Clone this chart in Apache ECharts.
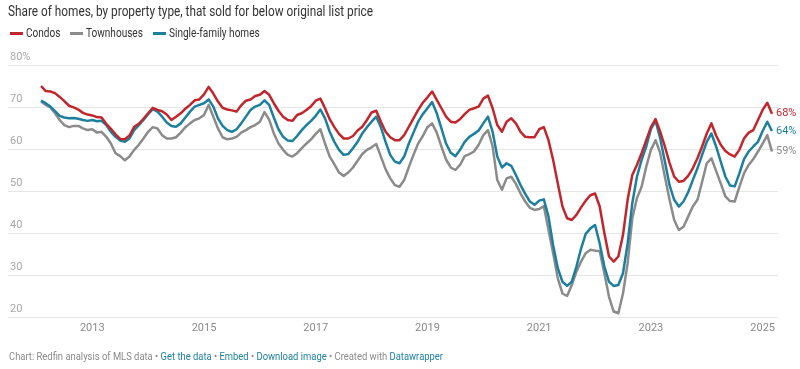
<!DOCTYPE html>
<html><head><meta charset="utf-8">
<script src="https://cdn.jsdelivr.net/npm/echarts@6/dist/echarts.min.js"></script>
<style>html,body{margin:0;padding:0;background:#fff}#c{width:800px;height:369px}</style>
</head><body><div id="c"></div>
<script>
// Monthly data, Feb 2012 .. Mar 2025 (share of homes sold below original list price, %)
const firstMonth = { year: 2012, month: 2 };
const condos = [
75.0,73.8,73.7,73.3,72.4,71.4,70.3,69.9,69.4,68.6,68.2,68.0,67.6,67.5,66.0,64.8,63.5,62.4,62.3,63.2,
65.3,66.0,67.2,68.5,69.8,69.3,69.0,68.2,66.9,67.7,68.5,69.6,70.5,71.6,71.8,73.0,74.8,73.2,71.3,69.8,
69.4,69.2,68.9,70.4,71.5,71.8,72.6,72.9,73.8,72.9,70.9,69.1,67.7,66.9,66.7,68.1,68.5,69.3,70.2,71.5,
72.0,69.7,67.1,65.2,63.6,62.5,62.5,63.1,64.4,65.3,66.9,68.7,69.1,66.5,64.1,62.8,62.1,62.1,63.3,65.3,
67.3,69.3,71.0,72.3,73.7,71.7,69.7,67.7,66.5,66.3,67.1,68.3,69.3,69.7,70.1,72.0,72.7,69.7,65.7,64.1,
66.5,67.3,66.1,64.1,62.9,62.8,62.8,64.7,65.2,62.1,57.4,51.8,46.3,43.5,43.1,44.3,46.1,47.7,49.0,49.4,
46.3,40.0,34.4,33.2,34.4,39.5,47.9,53.8,56.2,59.0,62.1,65.2,67.1,64.1,60.6,56.7,53.4,52.2,52.4,53.6,
55.4,57.8,60.6,63.7,66.1,63.2,61.0,59.5,58.7,58.2,59.8,62.5,63.9,64.5,66.9,69.3,71.0,68.4];
const townhouses = [
71.3,70.5,69.9,68.5,66.9,65.7,65.2,65.5,65.5,64.9,64.5,64.7,63.9,64.1,62.9,61.3,59.0,58.3,57.3,58.2,
59.8,61.0,62.5,64.1,65.2,64.9,63.3,62.5,62.5,62.8,63.9,65.2,66.1,66.9,67.3,68.1,70.5,67.7,64.9,62.8,
62.3,62.5,62.9,63.9,64.5,65.2,65.7,66.5,68.8,67.0,63.7,61.3,59.8,58.6,58.2,59.0,60.2,61.3,62.3,63.6,
64.7,61.3,58.2,56.4,54.4,53.6,54.4,55.6,57.2,58.8,59.8,60.4,61.2,58.2,55.2,53.0,51.4,51.0,52.6,55.7,
58.6,61.3,63.1,65.2,66.1,63.9,60.6,57.5,55.6,55.0,56.2,58.3,58.8,59.4,61.0,63.3,64.5,60.6,52.6,50.3,
53.0,53.4,51.7,49.4,47.5,46.0,45.5,45.7,46.4,40.7,35.2,29.2,25.6,25.0,27.6,30.8,33.2,35.2,36.0,35.8,
35.7,30.4,24.8,21.3,20.9,25.6,32.8,43.5,48.3,51.0,55.8,59.8,62.1,59.0,53.4,48.0,43.1,40.7,41.5,43.9,
46.3,47.9,52.2,56.6,57.8,54.8,51.8,48.7,47.6,47.5,51.0,54.2,56.2,57.6,59.4,61.3,63.3,59.4];
const singleFamily = [
71.5,70.9,70.1,69.0,67.9,67.5,67.3,67.4,67.2,66.9,66.7,66.9,66.6,66.7,65.7,64.1,62.9,62.0,61.7,62.5,
64.5,65.7,66.9,68.3,69.5,68.9,67.7,66.3,65.5,65.3,66.1,67.5,68.9,70.1,70.5,70.9,71.8,70.1,67.3,65.5,
64.5,64.1,64.7,66.1,67.7,69.3,70.1,70.5,71.6,70.5,67.5,64.7,62.9,62.0,61.9,63.1,64.5,65.7,66.7,67.9,
69.4,67.3,64.1,61.7,59.8,58.6,58.8,60.2,61.7,63.7,65.2,66.5,67.7,65.2,61.7,58.6,57.0,56.6,58.2,61.3,
63.9,66.5,68.3,69.7,71.2,68.5,64.9,61.3,59.1,58.3,59.8,61.7,62.9,63.6,64.4,66.1,67.7,64.1,58.2,55.6,
56.6,56.0,53.8,51.4,49.3,47.5,46.7,47.7,48.0,43.9,37.1,31.6,28.4,27.4,28.4,32.0,36.3,39.8,41.1,41.9,
37.5,32.0,28.4,27.4,27.6,30.4,37.5,47.1,53.4,57.4,60.6,64.7,66.7,62.5,57.0,51.4,47.9,46.3,47.5,49.7,
52.6,55.4,58.6,61.7,63.7,60.6,57.0,53.4,51.3,51.1,54.2,57.6,59.4,60.6,61.7,64.3,66.5,64.3];
const yearTickLabels = [2013, 2015, 2017, 2019, 2021, 2023, 2025];
const yTickValues = [20, 30, 40, 50, 60, 70, 80];
const seriesNames = ['Condos', 'Townhouses', 'Single-family homes'];
const seriesColors = { 'Condos': '#c0262c', 'Townhouses': '#8b8b8b', 'Single-family homes': '#1d7f9e' };
const titleText = 'Share of homes, by property type, that sold for below original list price';
const footerParts = [
  ['g', 'Chart: Redfin analysis of MLS data • '], ['b', 'Get the data'], ['g', ' • '], ['b', 'Embed'],
  ['g', ' • '], ['b', 'Download image'], ['g', ' • Created with '], ['b', 'Datawrapper']
];

const baseYear = 2012;
function monthPos(i) { return (firstMonth.year - baseYear) * 12 + (firstMonth.month - 1) + i; }
function toPoints(arr) { return arr.map((v, i) => [monthPos(i), v]); }

const FONT = 'Roboto, "Noto Sans", sans-serif';
const ctx = document.createElement('canvas').getContext('2d');
function tw(t, size, weight) { ctx.font = (weight || 'normal') + ' ' + size + 'px ' + FONT; return ctx.measureText(t).width; }

const chart = echarts.init(document.getElementById('c'), null, { renderer: 'canvas' });

// graphic texts (title, legend, footer), horizontally fitted to reference widths
const titleScale = 365 / tw(titleText, 14);
const footerPlain = footerParts.map(p => p[1]).join('');
const footerScale = 434 / tw(footerPlain, 11);
const legendScale = 182 / (tw('Condos', 12) + tw('Townhouses', 12) + tw('Single-family homes', 12));

const graphics = [
  { type: 'text', x: 8, y: 12, scaleX: titleScale,
    style: { text: titleText, font: '14px ' + FONT, fill: '#333333', textVerticalAlign: 'middle' } },
  { type: 'text', x: 9, y: 357, scaleX: footerScale,
    style: { text: footerParts.map(p => '{' + p[0] + '|' + p[1] + '}').join(''), font: '11px ' + FONT,
      textVerticalAlign: 'middle',
      rich: { g: { fill: '#8a8a8a', font: '11px ' + FONT }, b: { fill: '#1d81a2', font: '11px ' + FONT } } } }
];
const legendStarts = [10, 70, 153];
seriesNames.forEach((n, k) => {
  const x0 = legendStarts[k];
  graphics.push({ type: 'rect', shape: { x: x0, y: 32, width: 13, height: 3 }, style: { fill: seriesColors[n] } });
  graphics.push({ type: 'text', x: x0 + 16, y: 33.5, scaleX: legendScale,
    style: { text: n, font: '12px ' + FONT, fill: '#333333', textVerticalAlign: 'middle' } });
});

const drawOrder = ['Townhouses', 'Single-family homes', 'Condos'];
const dataByName = { 'Condos': condos, 'Townhouses': townhouses, 'Single-family homes': singleFamily };

chart.setOption({
  animation: false,
  backgroundColor: '#ffffff',
  grid: { left: 8, right: 22, top: 65, bottom: 52, containLabel: false },
  xAxis: {
    type: 'value', min: -6.1, max: 159.3,
    axisLine: { show: false }, axisTick: { show: false }, splitLine: { show: false },
    axisLabel: {
      customValues: yearTickLabels.map(y => (y - baseYear) * 12),
      formatter: v => String(baseYear + Math.round(v / 12)),
      color: '#8a8a8a', fontSize: 11, fontFamily: FONT, margin: 6
    }
  },
  yAxis: {
    type: 'value', min: yTickValues[0], max: yTickValues[yTickValues.length - 1], interval: 10,
    axisLine: { show: false }, axisTick: { show: false },
    splitLine: { show: true, lineStyle: { color: '#e6e6e6', width: 1 } },
    axisLabel: {
      inside: true, verticalAlign: 'bottom', margin: 2, padding: [0, 0, 2, 0],
      formatter: v => v === 80 ? v + '%' : String(v),
      color: '#a8a8a8', fontSize: 11, fontFamily: FONT
    }
  },
  graphic: graphics,
  series: drawOrder.map(n => ({
    name: n, type: 'line', data: toPoints(dataByName[n]), showSymbol: false, symbol: 'none',
    smooth: false, lineStyle: { color: seriesColors[n], width: 2.5, join: 'round' },
    itemStyle: { color: seriesColors[n] }, emphasis: { disabled: true }, silent: true,
    endLabel: { show: true, formatter: p => Math.round(p.value[1]) + '%', color: seriesColors[n],
      fontSize: 11, fontFamily: FONT, distance: 4 }
  }))
});
</script></body></html>
